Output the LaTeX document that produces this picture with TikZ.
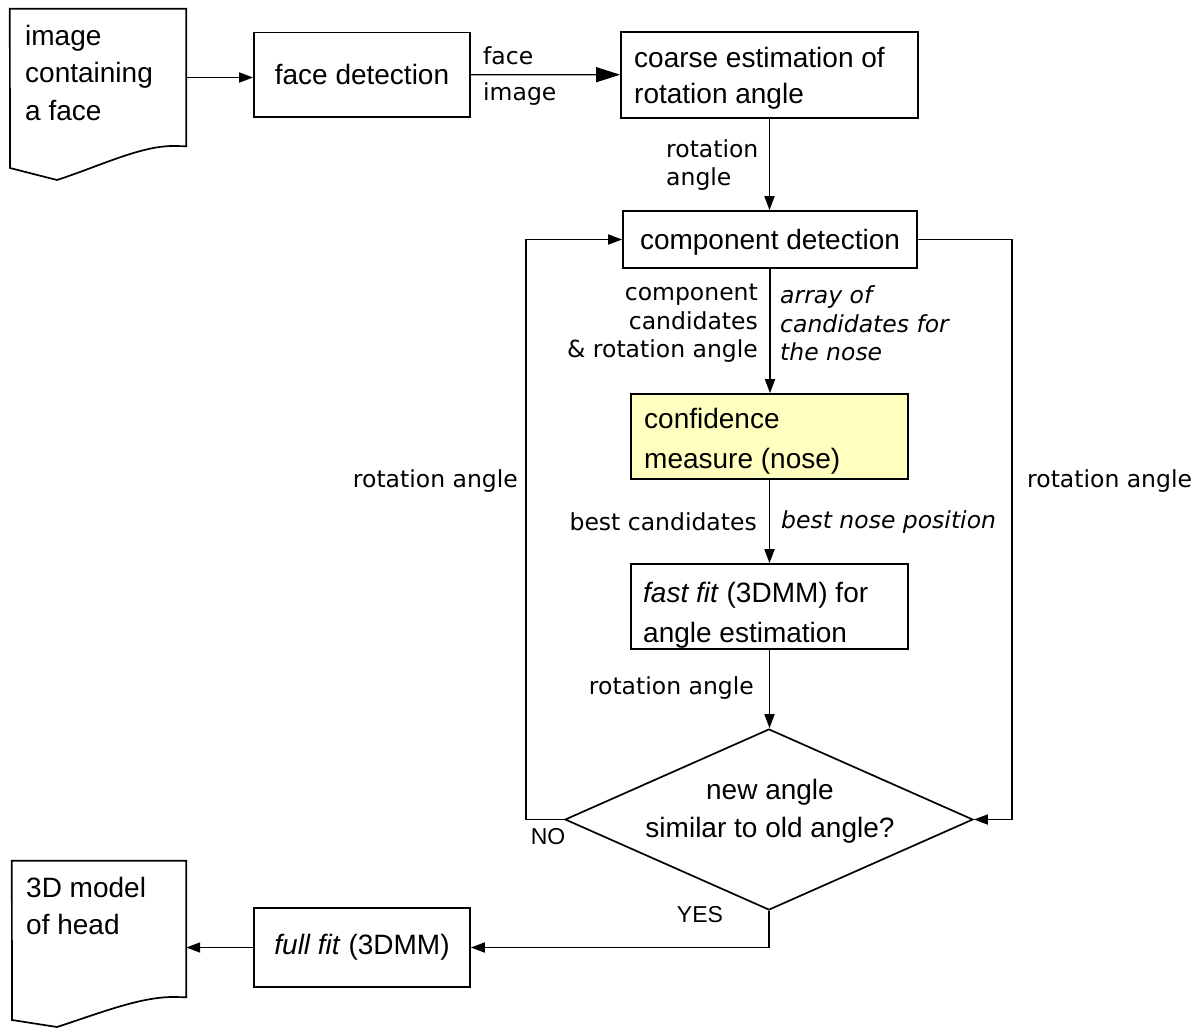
\documentclass[tikz,border=0pt]{standalone}
\usepackage{fontspec}
\setmainfont{Liberation Sans}
\newfontfamily\dejavufont{DejaVu Sans}
\usetikzlibrary{arrows.meta,shapes.geometric}
\definecolor{noteyellow}{RGB}{255,255,192}
\newcommand\bxfont{\fontsize{28}{38}\selectfont}
\newcommand\lbfont{\dejavufont\fontsize{23.5}{28.5}\selectfont}
\tikzset{
  outline/.style={draw, line width=1.7pt},
  framebox/.style={outline, inner sep=0pt},
  midbox/.style={outline, inner sep=0pt, font=\bxfont, align=center},
  boxtext/.style={inner sep=0pt, align=left, anchor=west},
  doctext/.style={inner sep=0pt, font=\fontsize{28}{37.5}\selectfont, align=left, anchor=west},
  edgelabel/.style={inner sep=0pt, font=\lbfont},
  answer/.style={inner sep=0pt, font=\fontsize{23}{27}\selectfont},
  flow/.style={-{Triangle[length=14pt,width=10pt]}, line width=1.7pt},
  bigflow/.style={-{Triangle[length=24pt,width=15pt]}, line width=1.1pt},
}
\begin{document}
\begin{tikzpicture}[x=1pt, y=-1pt]
\useasboundingbox (0,0) rectangle (1203,1028);

% input document
\node[inner sep=0pt, minimum width=176pt, minimum height=137pt] (doc1) at (98,77.5) {};
\draw[outline] (doc1.south east) -- (doc1.north east) -- (doc1.north west) -- (10,168) -- (57,180)
  .. controls (100,166) and (140,146) .. (173,146) -- cycle;
\node[doctext] (doc1text) at (25,72.5) {image\\containing\\a face};

% output document
\node[inner sep=0pt, minimum width=174pt, minimum height=136pt] (doc2) at (99,929) {};
\draw[outline] (doc2.south east) -- (doc2.north east) -- (doc2.north west) -- (12,1020) -- (57,1027)
  .. controls (100,1013) and (140,997) .. (173,997) -- cycle;
\node[doctext] (doc2text) at (26,906) {3D model\\of head};

% process boxes
\node[midbox, minimum width=216pt, minimum height=84.5pt] (face) at (362,74.75) {face detection};
\node[framebox, minimum width=297pt, minimum height=86pt] (coarse) at (769.5,74.7) {};
\node[boxtext, font=\fontsize{28}{36}\selectfont] (coarsetext) at (634,78.5) {coarse estimation of\\rotation angle};
\node[midbox, text depth=0pt, minimum width=294pt, minimum height=57pt] (comp) at (770,239.5) {component detection};
\node[framebox, fill=noteyellow, minimum width=277pt, minimum height=85pt] (conf) at (769.5,436.5) {};
\node[boxtext, font=\fontsize{28}{40}\selectfont] (conftext) at (644,441.5) {confidence\\measure (nose)};
\node[framebox, minimum width=277pt, minimum height=85pt] (fast) at (769.5,606.5) {};
\node[boxtext, font=\fontsize{28}{40}\selectfont] (fasttext) at (643,615.5) {\textit{fast fit} (3DMM) for\\angle estimation};
\node[midbox, minimum width=216pt, minimum height=79pt] (full) at (362,947.5) {\textit{full fit} (3DMM)};

% decision
\node[outline, diamond, inner sep=0pt, minimum width=408pt, minimum height=181pt] (dia) at (769,819.5) {};
\node[inner sep=0pt, font=\bxfont, align=center] (question) at (770,811) {new angle\\similar to old angle?};
\node[answer] (no) at (548,837) {NO};
\node[answer] (yes) at (700,915) {YES};

% connectors
\draw[flow] (doc1.east) -- (doc1.east -| face.west);
\draw[bigflow] (face.east) -- (coarse.west);
\draw[flow] (coarse.south) -- (coarse.south |- comp.north);
\draw[flow] (comp.south) -- (comp.south |- conf.north);
\draw[flow] (conf.south) -- (conf.south |- fast.north);
\draw[flow] (fast.south) -- (fast.south |- dia.north);
\draw[flow] (dia.west) -- ++(-38,0) |- (comp.west);
\draw[flow] (comp.east) -- ++(94,0) |- (dia.east);
\draw[flow] (dia.south) |- (full.east);
\draw[flow] (full.west) -- (full.west -| doc2.east);

% connector labels
\node[edgelabel, align=left, anchor=west, font=\dejavufont\fontsize{23.5}{36}\selectfont] (lface) at (483,76.5) {face\\image};
\node[edgelabel, align=left, anchor=west] (lrot1) at (666,165) {rotation\\angle};
\node[edgelabel, align=right, anchor=east] (lcand) at (758,323.5) {component\\candidates\\\& rotation angle};
\node[edgelabel, align=left, anchor=west, font=\lbfont\itshape] (lnose) at (780,323.5) {array of\\candidates for\\the nose};
\node[edgelabel, anchor=east] (lbest) at (757,522) {best candidates};
\node[edgelabel, anchor=west, font=\lbfont\itshape] (lpos) at (781,522) {best nose position};
\node[edgelabel, anchor=east] (lrot2) at (754,688) {rotation angle};
\node[edgelabel, anchor=east] (lrotl) at (518,481) {rotation angle};
\node[edgelabel, anchor=west] (lrotr) at (1027,481) {rotation angle};
\end{tikzpicture}
\end{document}
